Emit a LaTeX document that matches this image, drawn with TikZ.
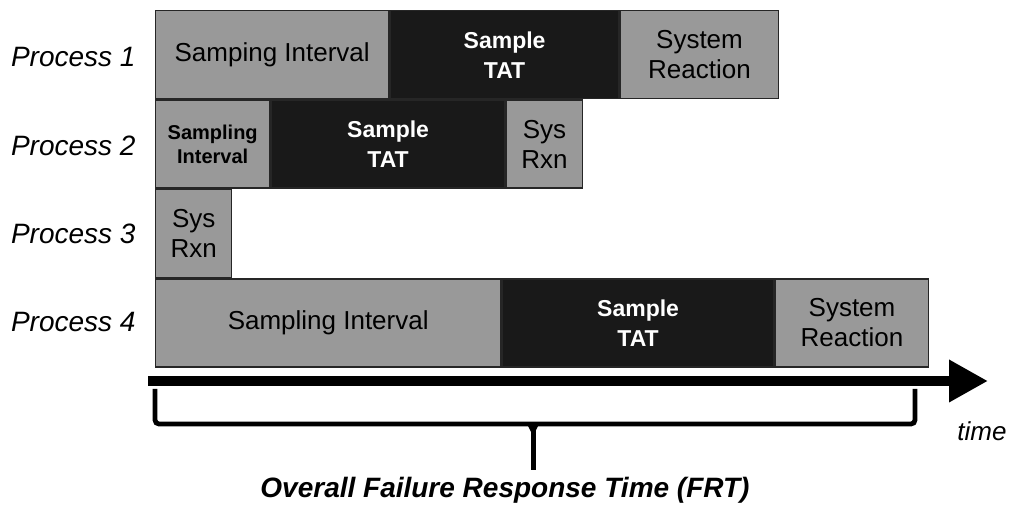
\documentclass[tikz,border=0pt]{standalone}
\usepackage{fontspec}
\setmainfont{Liberation Sans}
\usetikzlibrary{arrows.meta,positioning}

\tikzset{
  lightbox/.style={draw=black!85, line width=0.7pt, fill=black!40, text=black, inner sep=0pt,
    minimum height=44pt, align=center, anchor=north west, font=\fontsize{13}{15}\selectfont},
  darkbox/.style={lightbox, fill=black!90, text=white, font=\bfseries\fontsize{11.5}{15}\selectfont},
  smallbold/.style={font=\bfseries\fontsize{10}{12}\selectfont},
  proclabel/.style={anchor=west, font=\itshape\fontsize{14}{16}\selectfont}
}

\begin{document}
\begin{tikzpicture}[x=0.5pt, y=-0.5pt]
\useasboundingbox (0,0) rectangle (1009,513);
% Process 1
\node[proclabel] (p1) at (4,57) {Process 1};
\node[lightbox, minimum width=116.5pt] (si1) at (155,10) {Samping Interval};
\node[darkbox, minimum width=114.5pt, right=0pt of si1] (tat1) {Sample\\TAT};
\node[lightbox, minimum width=79pt, right=0pt of tat1] (sr1) {System\\Reaction};
% Process 2
\node[proclabel] (p2) at (4,146) {Process 2};
\node[lightbox, smallbold, minimum width=57pt] (si2) at (si1.south west) {Sampling\\Interval};
\node[darkbox, minimum width=117pt, right=0pt of si2] (tat2) {Sample\\TAT};
\node[lightbox, minimum width=38pt, right=0pt of tat2] (sr2) {Sys\\Rxn};
% Process 3
\node[proclabel] (p3) at (4,234) {Process 3};
\node[lightbox, minimum width=38pt] (sr3) at (si2.south west) {Sys\\Rxn};
% Process 4
\node[proclabel] (p4) at (4,322) {Process 4};
\node[lightbox, minimum width=172.5pt] (si4) at (sr3.south west) {Sampling Interval};
\node[darkbox, minimum width=136pt, right=0pt of si4] (tat4) {Sample\\TAT};
\node[lightbox, minimum width=76.5pt, right=0pt of tat4] (sr4) {System\\Reaction};
% time axis
\coordinate (t0) at (148,381);
\coordinate (t1) at (988,381);
\draw[line width=5pt, -{Triangle[length=19.5pt, width=20pt]}] (t0) -- (t1);
\node[font=\itshape\fontsize{13}{15}\selectfont] (time) at (982,431) {time};
% FRT bracket
\node[font=\bfseries\itshape\fontsize{14}{16}\selectfont] (frt) at (505,490) {Overall Failure Response Time (FRT)};
\coordinate (bl) at (155,389);
\coordinate (br) at (915,389);
\coordinate (bm) at (533,424);
\draw[line width=2.4pt, rounded corners=2pt] (bl) -- (bl |- bm) -- (br |- bm) -- (br);
\fill (bm) ++(-6,0) -- ++(12,0) -- ++(-6,12) -- cycle;
\draw[line width=2.5pt] (bm) -- (bm |- frt.north);
\end{tikzpicture}
\end{document}
